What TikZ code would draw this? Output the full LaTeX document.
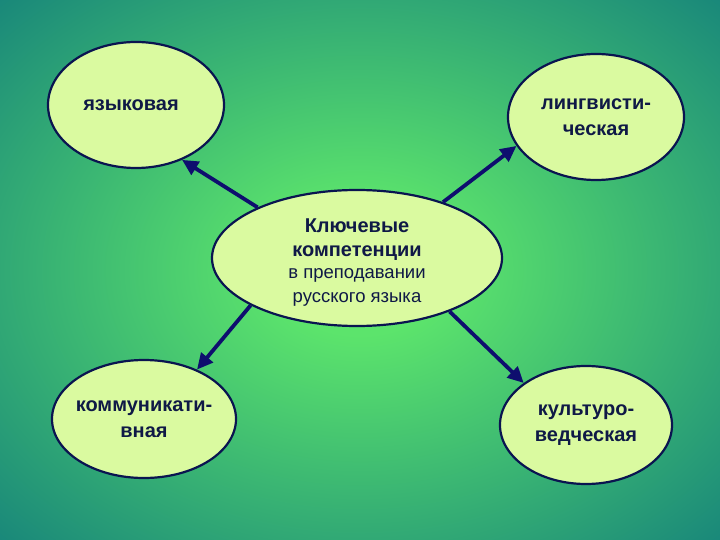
\documentclass[tikz,border=0pt]{standalone}
\usepackage{fontspec}
\setmainfont{Liberation Sans}
\usetikzlibrary{shapes.geometric,arrows.meta}
\definecolor{bgin}{RGB}{92,228,108}
\definecolor{bgout}{RGB}{24,134,122}
\definecolor{ellfill}{RGB}{218,250,160}
\definecolor{ellline}{RGB}{10,20,80}
\definecolor{arrowc}{RGB}{14,14,110}
\definecolor{txt}{RGB}{15,25,70}
\pgfdeclareradialshading{bgshade}{\pgfpoint{0bp}{0bp}}{color(0bp)=(bgin); color(6bp)=(bgin); color(36bp)=(bgout); color(50bp)=(bgout)}
\tikzset{
  oval/.style={ellipse, draw=ellline, line width=2.2pt, fill=ellfill, inner xsep=-40pt, inner ysep=-20pt,
    text=txt, align=center, font=\fontsize{20}{26}\selectfont\bfseries},
  ctext/.style={inner sep=0pt, text=txt, align=center, font=\fontsize{20}{24}\selectfont\bfseries},
  conn/.style={draw=arrowc, line width=3.8pt, -{Triangle[length=16pt,width=15pt]}}
}
\begin{document}
\begin{tikzpicture}[x=1pt,y=-1pt]
\shade[shading=bgshade] (0,0) rectangle (720,540);
\useasboundingbox (0,0) rectangle (720,540);
\node[oval, minimum width=290pt, minimum height=136pt] (c) at (357,258) {};
\node[ctext] (ct) at (357,263)
  {Ключевые\\компетенции\\[-2pt]
   \fontsize{18.5}{23}\selectfont\mdseries в преподавании\\
   \fontsize{18.5}{23}\selectfont\mdseries русского языка};
\node[oval, minimum width=176pt, minimum height=126pt] (a) at (136,105) {\hspace*{-10pt}языковая};
\node[oval, minimum width=176pt, minimum height=126pt] (b) at (596,117) {лингвисти-\\ческая};
\node[oval, minimum width=184pt, minimum height=118pt] (d) at (144,419) {коммуникати-\\вная};
\node[oval, minimum width=172pt, minimum height=118pt] (e) at (586,425) {культуро-\\ведческая};
\draw[conn] (c.153) -- (a.-50);
\draw[conn] (c.33) -- (b.200);
\draw[conn] (c.204) -- (d.43);
\draw[conn] (c.-30) -- (e.146);
\end{tikzpicture}
\end{document}
